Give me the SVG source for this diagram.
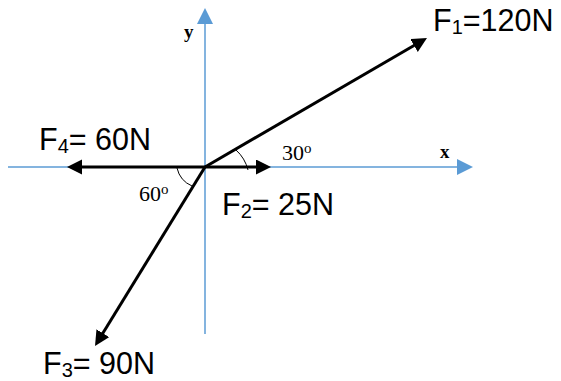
<svg xmlns="http://www.w3.org/2000/svg" width="561" height="381" viewBox="0 0 561 381">
<style>
.axis{stroke:#5B9BD5;stroke-width:1.5;fill:none}
.force{stroke:#000;stroke-width:3;fill:none}
.arc{stroke:#000;stroke-width:1;fill:none}
.lbl{font-family:"Liberation Sans",Arial,sans-serif;font-size:30.5px;fill:#000}
.ang{font-family:"Liberation Serif","Times New Roman",serif;font-size:22px;fill:#000}
.ax{font-family:"Liberation Serif","Times New Roman",serif;font-size:19px;font-weight:bold;fill:#000}
</style>
<defs>
<marker id="ab" markerUnits="userSpaceOnUse" markerWidth="16" markerHeight="16" refX="3" refY="7.5" orient="auto">
<path d="M0,0 L15,7.5 L0,15 z" fill="#000"/>
</marker>
<marker id="ax" markerUnits="userSpaceOnUse" markerWidth="17" markerHeight="17" refX="2" refY="8" orient="auto">
<path d="M0,0 L16,8 L0,16 z" fill="#5B9BD5"/>
</marker>
</defs>
<rect width="561" height="381" fill="#fff"/>
<g id="axes">
<line class="axis" x1="8" y1="167" x2="459" y2="167" marker-end="url(#ax)"/>
<line class="axis" x1="205" y1="334" x2="205" y2="22" marker-end="url(#ax)"/>
</g>
<g id="connectors">
<line class="force" x1="205" y1="167" x2="416.6" y2="44" marker-end="url(#ab)"/>
<line class="force" x1="205" y1="167" x2="259" y2="167" marker-end="url(#ab)"/>
<line class="force" x1="205" y1="167" x2="79" y2="167" marker-end="url(#ab)"/>
<line class="force" x1="205" y1="167" x2="101.3" y2="335.8" marker-end="url(#ab)"/>
<path class="arc" d="M236,150 A40 40 0 0 1 248,170"/>
<path class="arc" d="M177,168 A26 26 0 0 0 192,186"/>
</g>
<g id="labels">
<text class="ax" x="184" y="38">y</text>
<text class="ax" x="440" y="158">x</text>
<text class="ang" x="282" y="160">30<tspan font-size="15" dy="-7">o</tspan></text>
<text class="ang" x="139" y="201">60<tspan font-size="15" dy="-7">o</tspan></text>
<text class="lbl" x="433" y="31">F<tspan font-size="20" dy="3">1</tspan><tspan dy="-3">=120N</tspan></text>
<text class="lbl" x="39" y="150">F<tspan font-size="20" dy="3">4</tspan><tspan dy="-3">= 60N</tspan></text>
<text class="lbl" x="222" y="215">F<tspan font-size="20" dy="3">2</tspan><tspan dy="-3">= 25N</tspan></text>
<text class="lbl" x="43" y="374">F<tspan font-size="20" dy="3">3</tspan><tspan dy="-3">= 90N</tspan></text>
</g>
</svg>
